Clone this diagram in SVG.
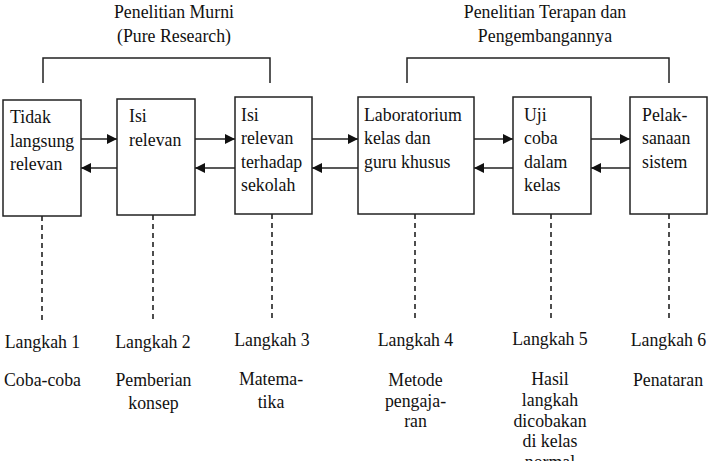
<svg xmlns="http://www.w3.org/2000/svg" width="708" height="461" viewBox="0 0 708 461" font-family="'Liberation Serif', 'Times New Roman', Times, serif">
<defs>
<marker id="ah" viewBox="0 0 10 10" refX="10" refY="5" markerWidth="10" markerHeight="10" markerUnits="userSpaceOnUse" orient="auto">
<path d="M0,0 L10,5 L0,10 Z" fill="#111"/>
</marker>
<style>
text{font-family:'Liberation Serif','Times New Roman',Times,serif;font-size:17.8px;fill:#111}
.c{text-anchor:middle}
.box{fill:#fff;stroke:#222;stroke-width:1.5}
.ln{stroke:#222;stroke-width:1.5;fill:none}
.ar{stroke:#222;stroke-width:1.5;fill:none;marker-end:url(#ah)}
.dash{stroke:#222;stroke-width:1.6;fill:none;stroke-dasharray:5 4}
</style>
</defs>
<rect width="708" height="461" fill="#fff"/>

<g id="title-murni">
<text class="c" x="174" y="18">Penelitian Murni</text>
<text class="c" x="174" y="41.5">(Pure Research)</text>
<path class="ln" d="M43,83 V58 H270 V83"/>
</g>
<g id="title-terapan">
<text class="c" x="545" y="18">Penelitian Terapan dan</text>
<text class="c" x="545" y="41.5">Pengembangannya</text>
<path class="ln" d="M407,83 V58 H669 V83"/>
</g>

<g id="connectors">
<line class="ar" x1="81" y1="139" x2="117" y2="139"/>
<line class="ar" x1="117" y1="168" x2="81" y2="168"/>
<line class="ar" x1="195" y1="139" x2="235" y2="139"/>
<line class="ar" x1="235" y1="168" x2="195" y2="168"/>
<line class="ar" x1="312" y1="139" x2="358" y2="139"/>
<line class="ar" x1="358" y1="168" x2="312" y2="168"/>
<line class="ar" x1="474" y1="139" x2="513" y2="139"/>
<line class="ar" x1="513" y1="168" x2="474" y2="168"/>
<line class="ar" x1="591" y1="139" x2="630" y2="139"/>
<line class="ar" x1="630" y1="168" x2="591" y2="168"/>
<line class="dash" x1="42" y1="216" x2="42" y2="323"/>
<line class="dash" x1="153" y1="215" x2="153" y2="323"/>
<line class="dash" x1="272" y1="214" x2="272" y2="322"/>
<line class="dash" x1="415" y1="214" x2="415" y2="322"/>
<line class="dash" x1="551" y1="214" x2="551" y2="322"/>
<line class="dash" x1="669" y1="214" x2="669" y2="322"/>
</g>

<g id="box1">
<rect class="box" x="3" y="100" width="78" height="116"/>
<text x="10" y="123">Tidak</text>
<text x="10" y="146.5">langsung</text>
<text x="10" y="170">relevan</text>
</g>
<g id="box2">
<rect class="box" x="117" y="99" width="78" height="116"/>
<text x="129" y="122">Isi</text>
<text x="129" y="145.5">relevan</text>
</g>
<g id="box3">
<rect class="box" x="235" y="97" width="77" height="117"/>
<text x="241" y="120.5">Isi</text>
<text x="241" y="144">relevan</text>
<text x="241" y="167.5">terhadap</text>
<text x="241" y="191">sekolah</text>
</g>
<g id="box4">
<rect class="box" x="358" y="97" width="116" height="117"/>
<text x="364" y="120.5">Laboratorium</text>
<text x="364" y="144">kelas dan</text>
<text x="364" y="167.5">guru khusus</text>
</g>
<g id="box5">
<rect class="box" x="513" y="97" width="78" height="117"/>
<text x="524" y="120.5">Uji</text>
<text x="524" y="144">coba</text>
<text x="524" y="167.5">dalam</text>
<text x="524" y="191">kelas</text>
</g>
<g id="box6">
<rect class="box" x="630" y="97" width="77" height="117"/>
<text x="642" y="120.5">Pelak-</text>
<text x="642" y="144">sanaan</text>
<text x="642" y="167.5">sistem</text>
</g>

<g id="step1">
<text class="c" x="42.5" y="347.5">Langkah 1</text>
<text class="c" x="42.5" y="386">Coba-coba</text>
</g>
<g id="step2">
<text class="c" x="153" y="347.5">Langkah 2</text>
<text class="c" x="153.5" y="386">Pemberian</text>
<text class="c" x="153.5" y="409">konsep</text>
</g>
<g id="step3">
<text class="c" x="272" y="346">Langkah 3</text>
<text class="c" x="271" y="385">Matema-</text>
<text class="c" x="271" y="408">tika</text>
</g>
<g id="step4">
<text class="c" x="415.5" y="346">Langkah 4</text>
<text class="c" x="415.5" y="385.5">Metode</text>
<text class="c" x="415.5" y="406.5">pengaja-</text>
<text class="c" x="415.5" y="427">ran</text>
</g>
<g id="step5">
<text class="c" x="550" y="344.5">Langkah 5</text>
<text class="c" x="550" y="384.5">Hasil</text>
<text class="c" x="550" y="405.5">langkah</text>
<text class="c" x="550" y="426.5">dicobakan</text>
<text class="c" x="550" y="447">di kelas</text>
<text class="c" x="550" y="468">normal</text>
</g>
<g id="step6">
<text class="c" x="668.5" y="346">Langkah 6</text>
<text class="c" x="668" y="385.5">Penataran</text>
</g>
</svg>
